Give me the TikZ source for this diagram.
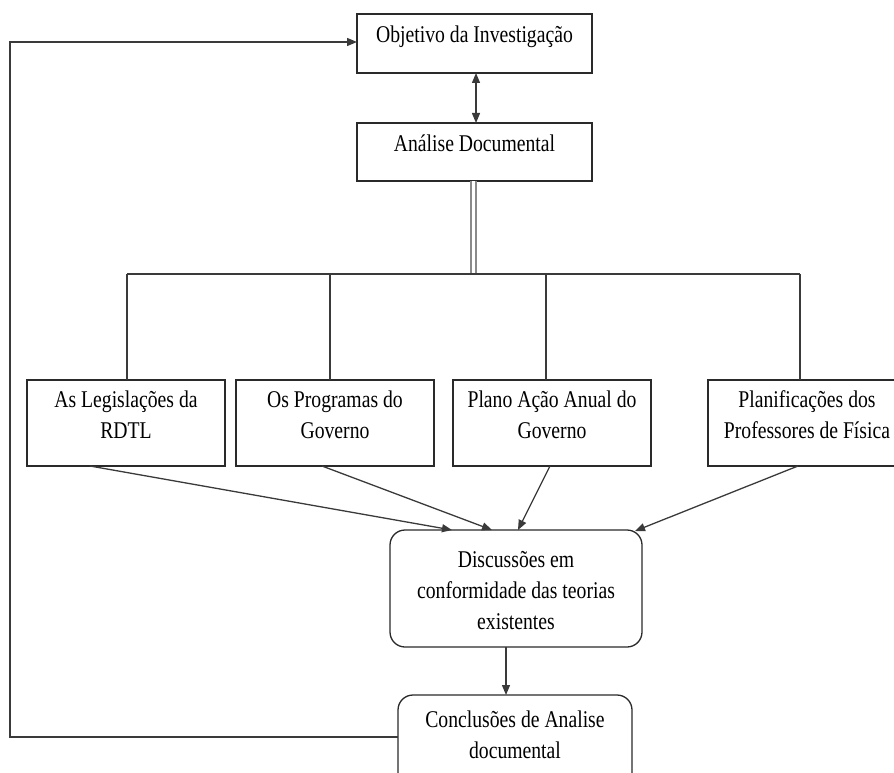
\documentclass[tikz,border=0pt]{standalone}
\usepackage{fontspec}
\setmainfont{Liberation Serif}[FakeStretch=0.82]
\usetikzlibrary{arrows.meta}

\definecolor{ink}{HTML}{2A2A2A}
\definecolor{linegray}{HTML}{3A3A3A}
\definecolor{dbl}{HTML}{8A8A8A}

% first-line baseline aligned multi-line label
\newcommand{\boxlines}[2]{\parbox[t]{#1}{\centering\fontsize{24pt}{31pt}\selectfont #2}}

\tikzset{
  frame/.style={draw=ink, line width=1.3pt, inner sep=0pt, outer sep=0pt, fill=white},
  roundframe/.style={frame, rounded corners=15pt},
  label/.style={inner sep=0pt, outer sep=0pt, anchor=base, text=black},
  conn/.style={draw=linegray, line width=1.3pt},
  arr/.style={conn, -{Triangle[length=10pt,width=8pt]}},
}

\begin{document}
\begin{tikzpicture}[x=1pt, y=-1pt]
\useasboundingbox (0,0) rectangle (894,773);
\clip (0,0) rectangle (894,773);

% boxes
\node[frame, minimum width=235pt, minimum height=59pt] (obj) at (474.5,43.5) {};
\node[frame, minimum width=235pt, minimum height=58pt] (ana) at (474.5,152) {};
\node[frame, minimum width=198pt, minimum height=86pt] (b1) at (126,423) {};
\node[frame, minimum width=198pt, minimum height=86pt] (b2) at (335,423) {};
\node[frame, minimum width=198pt, minimum height=86pt] (b3) at (552,423) {};
\node[frame, minimum width=198pt, minimum height=86pt] (b4) at (807,423) {};
\node[roundframe, minimum width=252pt, minimum height=117pt] (disc) at (516,588.5) {};
\node[roundframe, minimum width=234pt, minimum height=95pt] (conc) at (515,742.5) {};

% texts
\node[label] (tobj) at ([yshift=-29pt]obj.north) {\boxlines{230pt}{Objetivo da Investigação}};
\node[label] (tana) at ([yshift=-28pt]ana.north) {\boxlines{230pt}{Análise Documental}};
\node[label] (tb1) at ([yshift=-27.5pt]b1.north) {\boxlines{196pt}{As Legislações da\\RDTL}};
\node[label] (tb2) at ([yshift=-27.5pt]b2.north) {\boxlines{196pt}{Os Programas do\\Governo}};
\node[label] (tb3) at ([yshift=-27.5pt]b3.north) {\boxlines{196pt}{Plano Ação Anual do\\Governo}};
\node[label] (tb4) at ([yshift=-27.5pt]b4.north) {\boxlines{196pt}{Planificações dos\\Professores de Física}};
\node[label] (tdisc) at ([yshift=-37pt]disc.north) {\boxlines{250pt}{Discussões em\\conformidade das teorias\\existentes}};
\node[label] (tconc) at ([yshift=-32pt]conc.north) {\boxlines{232pt}{Conclusões de Analise\\documental}};

% objective <-> analysis
\draw[conn, {Triangle[length=10pt,width=8pt]}-{Triangle[length=10pt,width=8pt]}]
  ([xshift=1.5pt]obj.south) -- ([xshift=1.5pt]ana.south |- ana.north);

% double line down to the distribution bus
\coordinate (bus) at (473.5,274);
\draw[draw=dbl, line width=1.2pt, double=white, double distance=3.8pt]
  ([xshift=-1pt]ana.south) -- (bus);

% distribution bus and drops to the four sources
\coordinate (d1) at (127,274);
\coordinate (d2) at (330,274);
\coordinate (d3) at (546,274);
\coordinate (d4) at (800,274);
\draw[conn] (d1) -- (d4);
\draw[conn] (d1) -- (d1 |- b1.north);
\draw[conn] (d2) -- (d2 |- b2.north);
\draw[conn] (d3) -- (d3 |- b3.north);
\draw[conn] (d4) -- (d4 |- b4.north);

% sources converge on the discussion
\draw[arr] ([xshift=63pt]b1.south west) -- ([xshift=62pt]disc.north west);
\draw[arr] ([xshift=86pt]b2.south west) -- ([xshift=102pt]disc.north west);
\draw[arr] ([xshift=97pt]b3.south west) -- ([xshift=128pt]disc.north west);
\draw[arr] ([xshift=90pt]b4.south west) -- ([xshift=-7pt,yshift=-1pt]disc.north east);

% discussion -> conclusions
\coordinate (dc) at ([xshift=-10pt]disc.south);
\draw[arr] (dc) -- (dc |- conc.north);

% feedback loop back to the objective
\coordinate (fb) at (10,737);
\coordinate (ft) at (10,42);
\draw[arr] (conc.west |- fb) -- (fb) -- (ft) -- (obj.west |- ft);

\end{tikzpicture}
\end{document}
